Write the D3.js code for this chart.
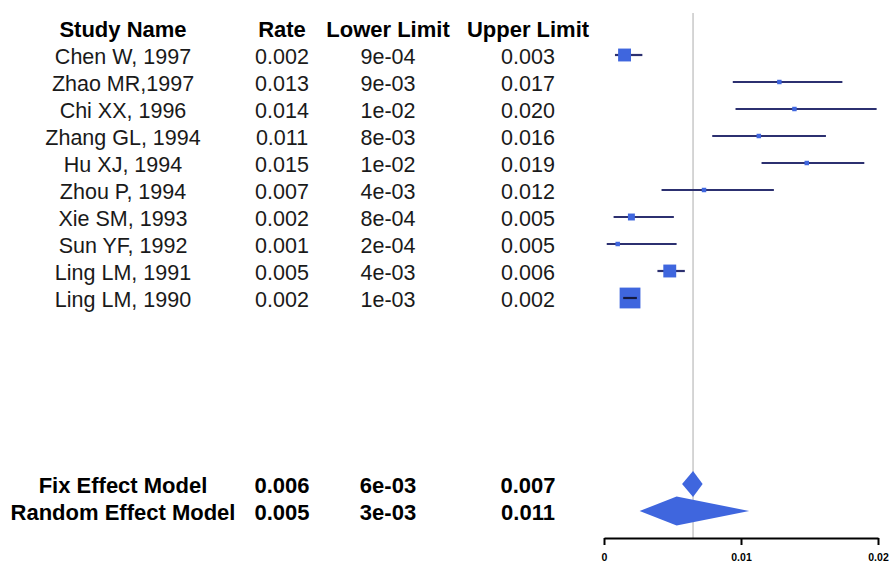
<!DOCTYPE html>
<meta charset="utf-8">
<head>
  <title>Forest plot</title>
</head>

<style>
body {
  margin: 0;
  background: #fff;
  font-family: "Liberation Sans", Arial, Helvetica, sans-serif;
}
text {
  fill: #1a1a1a;
}
.head text, .summary text {
  font-weight: bold;
  fill: #000;
}
</style>

<body>
  <svg width="889" height="570"></svg>

  <script src="https://cdnjs.cloudflare.com/ajax/libs/d3/7.8.5/d3.min.js"></script>

  <script>
  // table columns
  var headers = ['Study Name', 'Rate', 'Lower Limit', 'Upper Limit'];
  var studies = ['Chen W, 1997', 'Zhao MR,1997', 'Chi XX, 1996', 'Zhang GL, 1994', 'Hu XJ, 1994',
    'Zhou P, 1994', 'Xie SM, 1993', 'Sun YF, 1992', 'Ling LM, 1991', 'Ling LM, 1990'];
  var rateText = ['0.002', '0.013', '0.014', '0.011', '0.015', '0.007', '0.002', '0.001', '0.005', '0.002'];
  var lowerText = ['9e-04', '9e-03', '1e-02', '8e-03', '1e-02', '4e-03', '8e-04', '2e-04', '4e-03', '1e-03'];
  var upperText = ['0.003', '0.017', '0.020', '0.016', '0.019', '0.012', '0.005', '0.005', '0.006', '0.002'];

  // values
  var est = [0.0015, 0.0128, 0.0139, 0.0113, 0.0148, 0.0073, 0.0020, 0.0010, 0.0048, 0.0019];
  var lo  = [0.0008, 0.0094, 0.0096, 0.0079, 0.0115, 0.0042, 0.0007, 0.0002, 0.0039, 0.0014];
  var hi  = [0.0028, 0.0174, 0.0199, 0.0162, 0.0190, 0.0124, 0.0051, 0.0053, 0.0059, 0.0024];
  var weight = [18.3, 2.2, 2.2, 2.2, 2.2, 2.2, 5.3, 2.2, 18.3, 47.7];

  var summaryNames = ['Fix Effect Model', 'Random Effect Model'];
  var summaryRate = ['0.006', '0.005'];
  var summaryLower = ['6e-03', '3e-03'];
  var summaryUpper = ['0.007', '0.011'];
  var summaryEst = [0.0065, 0.0053];
  var summaryLo = [0.0057, 0.0026];
  var summaryHi = [0.0072, 0.0106];

  var axisTicks = [0, 0.01, 0.02];

  var svg = d3.select('svg');
  var colX = [123, 282, 388, 528];

  var x = d3.scaleLinear().domain([0, 0.02]).range([604, 878]);
  var y = d3.scaleLinear().domain([0, studies.length - 1]).range([55, 298]);
  var ySum = d3.scaleLinear().domain([0, 1]).range([484, 511]);
  var boxSize = d3.scaleSqrt().domain([0, 50]).range([0, 21.3]);

  // header
  svg.append('g').classed('head', true)
    .selectAll('text')
    .data(headers)
    .enter()
    .append('text')
    .attr('x', function(d, i) { return colX[i]; })
    .attr('y', 37)
    .attr('text-anchor', 'middle')
    .style('font-size', '22px')
    .text(function(d) { return d; });

  // study rows
  var cols = [studies, rateText, lowerText, upperText];
  cols.forEach(function(col, c) {
    svg.append('g')
      .selectAll('text')
      .data(col)
      .enter()
      .append('text')
      .attr('x', colX[c])
      .attr('y', function(d, i) { return y(i) + 8.5; })
      .attr('text-anchor', 'middle')
      .style('font-size', '21.5px')
      .text(function(d) { return d; });
  });

  // summary rows
  var sumCols = [summaryNames, summaryRate, summaryLower, summaryUpper];
  sumCols.forEach(function(col, c) {
    svg.append('g').classed('summary', true)
      .selectAll('text')
      .data(col)
      .enter()
      .append('text')
      .attr('x', colX[c])
      .attr('y', function(d, i) { return ySum(i) + 8.7; })
      .attr('text-anchor', 'middle')
      .style('font-size', '22px')
      .text(function(d) { return d; });
  });

  // reference line at fixed effect estimate
  svg.append('line')
    .attr('x1', x(summaryEst[0]))
    .attr('x2', x(summaryEst[0]))
    .attr('y1', 13)
    .attr('y2', 538)
    .style('stroke', '#c8c8c8')
    .style('stroke-width', 1.5);

  // confidence intervals and boxes
  var rows = svg.append('g')
    .selectAll('g')
    .data(studies)
    .enter()
    .append('g');

  rows.append('line')
    .attr('x1', function(d, i) { return x(lo[i]); })
    .attr('x2', function(d, i) { return x(hi[i]); })
    .attr('y1', function(d, i) { return y(i); })
    .attr('y2', function(d, i) { return y(i); })
    .style('stroke', '#2c3070')
    .style('stroke-width', 2.2);

  rows.append('rect')
    .attr('x', function(d, i) { return x(est[i]) - boxSize(weight[i]) / 2; })
    .attr('y', function(d, i) { return y(i) - boxSize(weight[i]) / 2; })
    .attr('width', function(d, i) { return boxSize(weight[i]); })
    .attr('height', function(d, i) { return boxSize(weight[i]); })
    .style('fill', '#3f66de');

  // interval narrower than its box: draw it over the box
  rows.filter(function(d, i) { return x(hi[i]) - x(lo[i]) < boxSize(weight[i]); })
    .append('line')
    .attr('x1', function(d) { var i = studies.indexOf(d); return x(lo[i]); })
    .attr('x2', function(d) { var i = studies.indexOf(d); return x(hi[i]); })
    .attr('y1', function(d) { return y(studies.indexOf(d)); })
    .attr('y2', function(d) { return y(studies.indexOf(d)); })
    .style('stroke', '#151a40')
    .style('stroke-width', 2.2);

  // summary diamonds
  var diamond = d3.line();
  svg.append('g')
    .selectAll('path')
    .data(summaryNames)
    .enter()
    .append('path')
    .attr('d', function(d, i) {
      var yc = ySum(i), h = i === 0 ? 13 : 14.5;
      return diamond([[x(summaryLo[i]), yc], [x(summaryEst[i]), yc - h],
        [x(summaryHi[i]), yc], [x(summaryEst[i]), yc + h]]) + 'Z';
    })
    .style('fill', '#3f66de');

  // axis
  var axis = svg.append('g')
    .attr('transform', 'translate(0, 538)')
    .call(d3.axisBottom(x)
      .tickValues(axisTicks)
      .tickSize(7)
      .tickSizeOuter(0)
      .tickPadding(9)
      .tickFormat(function(d) { return String(d); }));

  axis.select('.domain').style('stroke', '#000').style('stroke-width', 2);
  axis.selectAll('.tick line').style('stroke', '#000').style('stroke-width', 2);
  axis.selectAll('.tick text')
    .style('font-family', '"Liberation Sans", Arial, sans-serif')
    .style('font-size', '10.5px')
    .style('font-weight', 'bold')
    .style('fill', '#000');

  </script>
</body>
</html>
